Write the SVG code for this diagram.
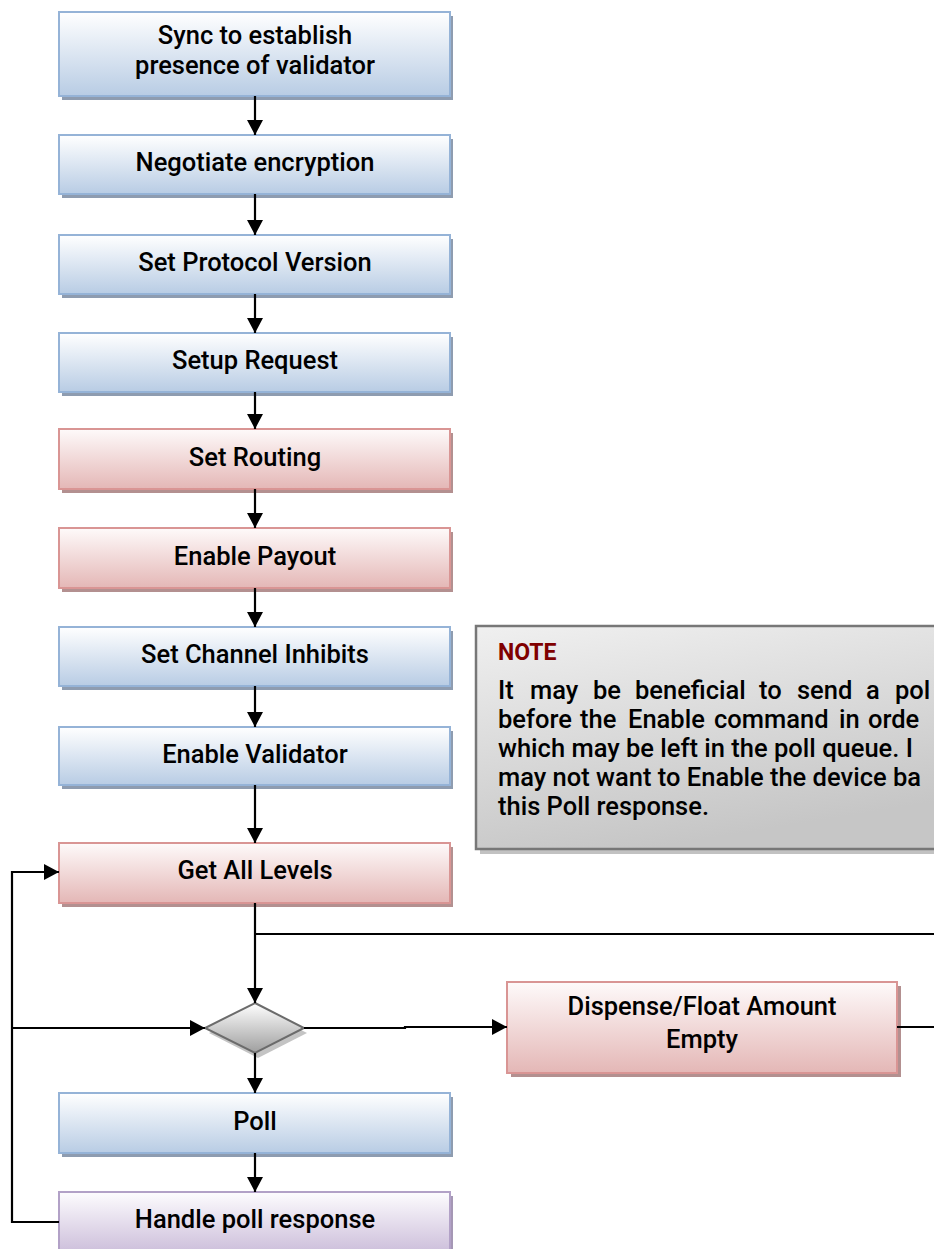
<svg xmlns="http://www.w3.org/2000/svg" width="934" height="1249" viewBox="0 0 934 1249">
  <defs>
    <linearGradient id="gBlue" x1="0" y1="0" x2="0" y2="1">
      <stop offset="0" stop-color="#ffffff"/>
      <stop offset="1" stop-color="#b8cce4"/>
    </linearGradient>
    <linearGradient id="gRed" x1="0" y1="0" x2="0" y2="1">
      <stop offset="0" stop-color="#fefafa"/>
      <stop offset="1" stop-color="#e4b7b6"/>
    </linearGradient>
    <linearGradient id="gPurple" x1="0" y1="0" x2="0" y2="1">
      <stop offset="0" stop-color="#fdfcfe"/>
      <stop offset="1" stop-color="#cdbfdb"/>
    </linearGradient>
    <linearGradient id="gDiamond" x1="0" y1="0" x2="0" y2="1">
      <stop offset="0" stop-color="#ffffff"/>
      <stop offset="1" stop-color="#9e9e9e"/>
    </linearGradient>
    <linearGradient id="gNote" x1="0" y1="0" x2="0.35" y2="1">
      <stop offset="0" stop-color="#f0f0f0"/>
      <stop offset="1" stop-color="#c6c6c6"/>
    </linearGradient>
    <marker id="arrow" markerUnits="userSpaceOnUse" markerWidth="16" markerHeight="16" refX="15" refY="8" orient="auto">
      <path d="M0,0 L15,8 L0,16 z" fill="#000"/>
    </marker>
    <style>
      .lbl { font-family: Roboto, "Liberation Sans", sans-serif; font-weight: 500; font-size: 25.5px; fill: #000; text-anchor: middle; }
      .blue { fill: url(#gBlue); stroke: #95b3d7; stroke-width: 2; }
      .red { fill: url(#gRed); stroke: #d99594; stroke-width: 2; }
      .purple { fill: url(#gPurple); stroke: #b2a1c7; stroke-width: 2; }
      .shBlue { fill: #8e9cb0; }
      .shRed { fill: #b39090; }
      .shPurple { fill: #a597b5; }
      .wire { fill: none; stroke: #000; stroke-width: 2.2; }
      .note { font-family: Roboto, "Liberation Sans", sans-serif; font-weight: 500; font-size: 25.5px; fill: #000; }
    </style>
  </defs>

  <!-- process steps -->
  <g id="sync">
    <rect class="shBlue" x="62" y="16" width="391" height="84"/>
    <rect class="blue" x="59" y="12" width="391" height="84"/>
    <text class="lbl" x="255" y="44">Sync to establish</text>
    <text class="lbl" x="255" y="74">presence of validator</text>
  </g>
  <g id="negotiate">
    <rect class="shBlue" x="62" y="139" width="391" height="59"/>
    <rect class="blue" x="59" y="135" width="391" height="59"/>
    <text class="lbl" x="255" y="171">Negotiate encryption</text>
  </g>
  <g id="protocol">
    <rect class="shBlue" x="62" y="239" width="391" height="59"/>
    <rect class="blue" x="59" y="235" width="391" height="59"/>
    <text class="lbl" x="255" y="271">Set Protocol Version</text>
  </g>
  <g id="setup">
    <rect class="shBlue" x="62" y="337" width="391" height="59"/>
    <rect class="blue" x="59" y="333" width="391" height="59"/>
    <text class="lbl" x="255" y="369">Setup Request</text>
  </g>
  <g id="routing">
    <rect class="shRed" x="62" y="433" width="391" height="60"/>
    <rect class="red" x="59" y="429" width="391" height="60"/>
    <text class="lbl" x="255" y="466">Set Routing</text>
  </g>
  <g id="payout">
    <rect class="shRed" x="62" y="532" width="391" height="60"/>
    <rect class="red" x="59" y="528" width="391" height="60"/>
    <text class="lbl" x="255" y="565">Enable Payout</text>
  </g>
  <g id="inhibits">
    <rect class="shBlue" x="62" y="631" width="391" height="59"/>
    <rect class="blue" x="59" y="627" width="391" height="59"/>
    <text class="lbl" x="255" y="663">Set Channel Inhibits</text>
  </g>
  <g id="enable">
    <rect class="shBlue" x="62" y="731" width="391" height="58"/>
    <rect class="blue" x="59" y="727" width="391" height="58"/>
    <text class="lbl" x="255" y="763">Enable Validator</text>
  </g>
  <g id="levels">
    <rect class="shRed" x="62" y="847" width="391" height="60"/>
    <rect class="red" x="59" y="843" width="391" height="60"/>
    <text class="lbl" x="255" y="879">Get All Levels</text>
  </g>
  <g id="decision">
    <polygon points="258,1008 307,1033 258,1058 209,1033" fill="#c4c4c4"/>
    <polygon points="255,1003 304,1028 255,1053 205,1028" fill="url(#gDiamond)" stroke="#6b6b6b" stroke-width="2"/>
  </g>
  <g id="dispense">
    <rect class="shRed" x="511" y="986" width="390" height="91"/>
    <rect class="red" x="507" y="982" width="390" height="91"/>
    <text class="lbl" x="702" y="1015">Dispense/Float Amount</text>
    <text class="lbl" x="702" y="1048">Empty</text>
  </g>
  <g id="poll">
    <rect class="shBlue" x="62" y="1097" width="391" height="60"/>
    <rect class="blue" x="59" y="1093" width="391" height="60"/>
    <text class="lbl" x="255" y="1130">Poll</text>
  </g>
  <g id="handle">
    <rect class="shPurple" x="62" y="1196" width="391" height="60"/>
    <rect class="purple" x="59" y="1192" width="391" height="60"/>
    <text class="lbl" x="255" y="1228">Handle poll response</text>
  </g>

  <!-- annotation -->
  <g id="note">
    <rect x="480" y="631" width="480" height="223" fill="#c2c2c2"/>
    <rect x="476" y="626" width="480" height="223" fill="url(#gNote)" stroke="#777777" stroke-width="2.5"/>
    <text x="498" y="660" font-family="Roboto, 'Liberation Sans', sans-serif" font-weight="700" font-size="23" fill="#800000">NOTE</text>
    <!-- justified lines: words placed one by one -->
    <text class="note" y="699"><tspan x="498">It</tspan><tspan x="530">may</tspan><tspan x="593">be</tspan><tspan x="635">beneficial</tspan><tspan x="759">to</tspan><tspan x="797">send</tspan><tspan x="866">a</tspan><tspan x="895">pol</tspan></text>
    <text class="note" y="728"><tspan x="498">before</tspan><tspan x="580">the</tspan><tspan x="628">Enable</tspan><tspan x="714">command</tspan><tspan x="839">in</tspan><tspan x="868">orde</tspan></text>
    <text class="note" x="498" y="757">which may be left in the poll queue. I</text>
    <text class="note" x="498" y="786">may not want to Enable the device ba</text>
    <text class="note" x="498" y="815">this Poll response.</text>
  </g>

  <!-- connectors -->
  <g id="connectors">
    <path class="wire" d="M255,96 V135" marker-end="url(#arrow)"/>
    <path class="wire" d="M255,194 V235" marker-end="url(#arrow)"/>
    <path class="wire" d="M255,294 V333" marker-end="url(#arrow)"/>
    <path class="wire" d="M255,392 V429" marker-end="url(#arrow)"/>
    <path class="wire" d="M255,489 V528" marker-end="url(#arrow)"/>
    <path class="wire" d="M255,588 V627" marker-end="url(#arrow)"/>
    <path class="wire" d="M255,686 V727" marker-end="url(#arrow)"/>
    <path class="wire" d="M255,785 V843" marker-end="url(#arrow)"/>
    <path class="wire" d="M255,903 V1003" marker-end="url(#arrow)"/>
    <path class="wire" d="M255,934 H934"/>
    <path class="wire" d="M12,1028 H205" marker-end="url(#arrow)"/>
    <path class="wire" d="M304,1028 H405 V1027 H507" marker-end="url(#arrow)"/>
    <path class="wire" d="M897,1027 H934"/>
    <path class="wire" d="M255,1053 V1093" marker-end="url(#arrow)"/>
    <path class="wire" d="M255,1153 V1192" marker-end="url(#arrow)"/>
    <path class="wire" d="M59,1222 H12 V872 H59" marker-end="url(#arrow)"/>
  </g>
</svg>
